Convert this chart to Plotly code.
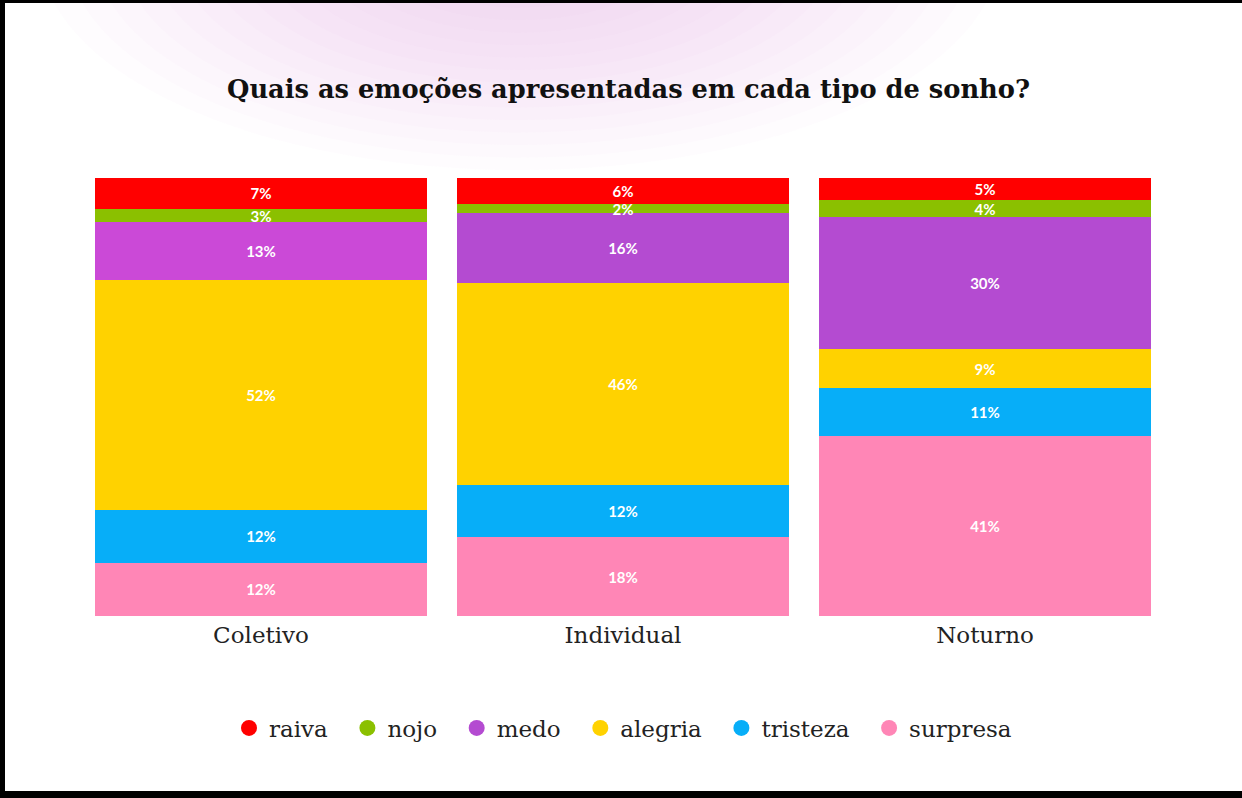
import plotly.graph_objects as go

categories = ["Coletivo", "Individual", "Noturno"]
emotions = ["raiva", "nojo", "medo", "alegria", "tristeza", "surpresa"]
raiva = [7, 6, 5]
nojo = [3, 2, 4]
medo = [13, 16, 30]
alegria = [52, 46, 9]
tristeza = [12, 12, 11]
surpresa = [12, 18, 41]

colors = {
    "raiva": "#FF0000",
    "nojo": "#8BC000",
    "medo": "#B44BD1",
    "alegria": "#FFD200",
    "tristeza": "#07AEF8",
    "surpresa": "#FF86B6",
}
medo_bar_colors = ["#CB49D7", "#B44BD1", "#B44BD1"]

series = {
    "raiva": raiva, "nojo": nojo, "medo": medo,
    "alegria": alegria, "tristeza": tristeza, "surpresa": surpresa,
}

fig = go.Figure()

# stack from bottom: surpresa first
for name in reversed(emotions):
    vals = series[name]
    col = medo_bar_colors if name == "medo" else colors[name]
    fig.add_trace(go.Bar(
        x=categories, y=vals, name=name,
        marker=dict(color=col, line=dict(width=0)),
        text=[f"{v}%" for v in vals],
        textposition="inside", insidetextanchor="middle",
        textangle=0, constraintext="none",
        textfont=dict(family="Lato", size=15, color="white", weight="bold"),
        showlegend=False, hoverinfo="skip",
    ))

# legend entries (circle markers)
NB = "\u00a0"
for i, name in enumerate(emotions):
    label = name if i == len(emotions) - 1 else name + NB * 2
    fig.add_trace(go.Scatter(
        x=[None], y=[None], mode="markers", name=label,
        marker=dict(symbol="circle", size=22, color=colors[name]),
        showlegend=True,
    ))

# pixel -> paper helpers (plot area: x 80..1166, y 178..616)
def px(x):
    return (x - 80) / 1086.0

def py(y):
    return (616 - y) / 438.0

shapes = []
# soft pink glow near the top
n = 16
for k in range(n):
    f = 1 - k / n
    cx, cy = 520, -50
    rx, ry = 440 * f + 40, 200 * f + 20
    shapes.append(dict(
        type="circle", xref="paper", yref="paper",
        x0=px(cx - rx), x1=px(cx + rx), y0=py(cy + ry), y1=py(cy - ry),
        fillcolor="rgba(240,170,240,0.04)", line=dict(width=0), layer="below",
    ))
# black frame strips
shapes.append(dict(type="rect", xref="paper", yref="paper",
                   x0=px(-5), x1=px(5), y0=py(-5), y1=py(803),
                   fillcolor="black", line=dict(width=0), layer="above"))
shapes.append(dict(type="rect", xref="paper", yref="paper",
                   x0=px(-5), x1=px(1250), y0=py(-5), y1=py(3),
                   fillcolor="black", line=dict(width=0), layer="above"))
shapes.append(dict(type="rect", xref="paper", yref="paper",
                   x0=px(-5), x1=px(1250), y0=py(791), y1=py(803),
                   fillcolor="black", line=dict(width=0), layer="above"))

fig.update_layout(
    width=1242, height=798,
    margin=dict(l=80, r=76, t=178, b=182),
    paper_bgcolor="white", plot_bgcolor="rgba(0,0,0,0)",
    barmode="stack", barnorm="percent", bargap=0.083,
    title=dict(
        text="<b>Quais as emoções apresentadas em cada tipo de sonho?</b>",
        x=628.5 / 1242, xanchor="center", y=1 - 89 / 798, yanchor="middle",
        font=dict(family="DejaVu Serif", size=25.7, color="#111111"),
    ),
    xaxis=dict(
        showgrid=False, zeroline=False, showline=False, ticks="",
        ticklabelstandoff=3,
        tickfont=dict(family="DejaVu Serif", size=23, color="#222222"),
    ),
    yaxis=dict(range=[0, 100], visible=False, fixedrange=True),
    legend=dict(
        orientation="h", x=0.5, xanchor="center", y=py(728), yanchor="middle",
        font=dict(family="DejaVu Serif", size=23, color="#222222"),
        itemsizing="trace", traceorder="normal",
        bgcolor="rgba(0,0,0,0)",
    ),
    shapes=shapes,
    showlegend=True,
)

fig.write_html("out.html")
